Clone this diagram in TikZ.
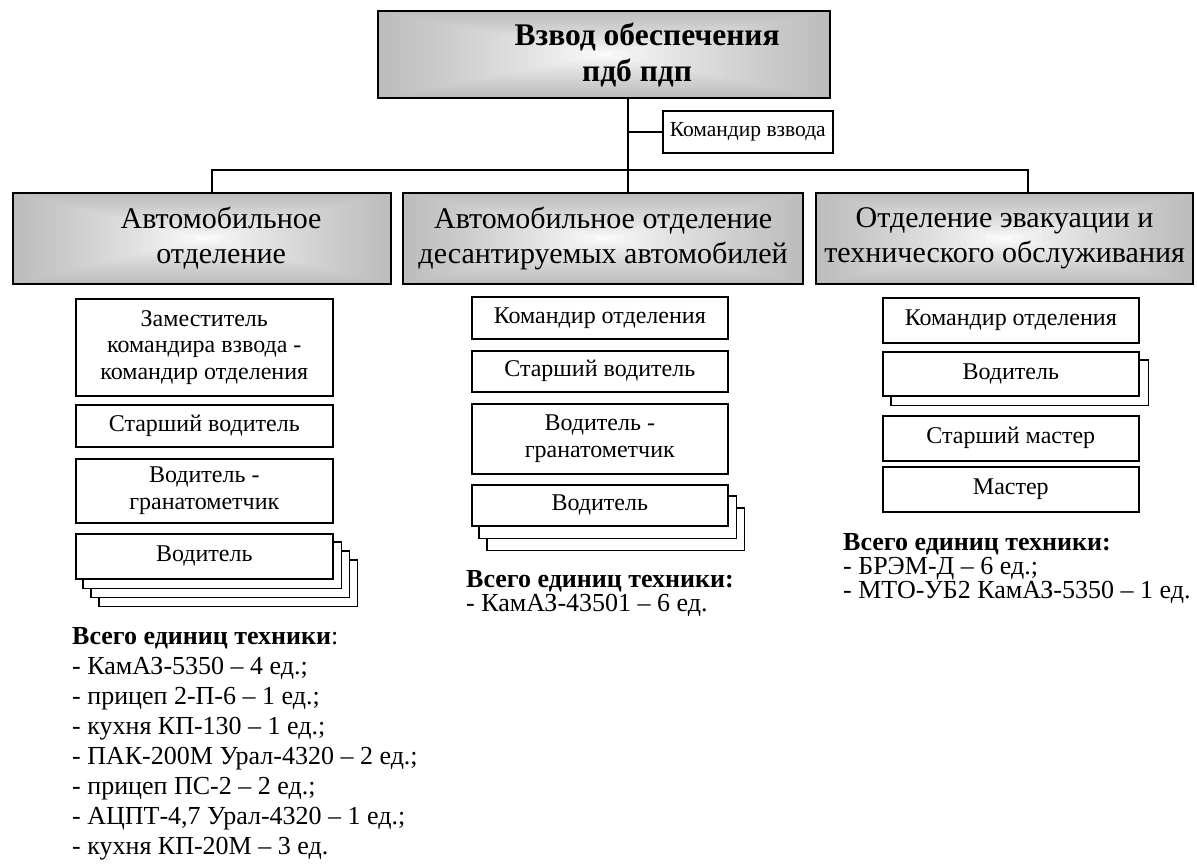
\documentclass[tikz,border=0pt]{standalone}
\usepackage{fontspec}
\setmainfont{Liberation Serif}
\usetikzlibrary{calc,backgrounds}
\tikzset{
  grad/.style={path picture={
    \foreach \i in {30,...,1}{
      \pgfmathsetmacro\f{\i/30}
      \pgfmathsetmacro\c{26*(\f^0.8)}
      \fill[black!\c] ($(path picture bounding box.center)!\f!(path picture bounding box.south west)$) rectangle ($(path picture bounding box.center)!\f!(path picture bounding box.north east)$);
    }}},
  conn/.style={line width=2pt},
  bigbox/.style={draw, line width=2.2pt, grad, anchor=north west, inner sep=0pt, align=center},
  smallbox/.style={draw, line width=1.6pt, fill=white, anchor=north west, inner sep=0pt, align=center, font=\fontsize{24}{26.5}\selectfont},
  backbox/.style={draw, line width=1.6pt, fill=white},
  listtext/.style={anchor=north west, inner sep=0pt, align=left},
}
\begin{document}
\begin{tikzpicture}[x=1pt,y=-1pt]
\useasboundingbox (0,0) rectangle (1197,863);

% top
\node[bigbox, minimum width=452pt, minimum height=87pt, font=\bfseries\fontsize{31.5}{36}\selectfont] (top) at (377,10) {\hspace*{86pt}Взвод обеспечения\\\hspace*{66pt}пдб пдп};
\node[smallbox, minimum width=170pt, minimum height=42pt, font=\fontsize{21.5}{25}\selectfont] (kv) at (662,110) {Командир взвода};

% level 2
\node[bigbox, minimum width=378pt, minimum height=91pt, font=\fontsize{30}{35}\selectfont] (L2l) at (12,192) {\hspace*{38pt}Автомобильное\\\hspace*{38pt}отделение};
\node[bigbox, minimum width=400pt, minimum height=91pt, font=\fontsize{30}{35}\selectfont] (L2m) at (402,192) {Автомобильное отделение\\десантируемых автомобилей};
\node[bigbox, minimum width=377pt, minimum height=91pt, font=\fontsize{30}{35}\selectfont] (L2r) at (815,192) {Отделение эвакуации и\\технического обслуживания};

% connectors
\coordinate (bl) at (212,170);
\coordinate (bm) at (628,170);
\coordinate (br) at (1028,170);
\draw[conn] (top.south -| bm) -- (bm |- L2m.north);
\draw[conn] (kv.west) -- (kv.west -| bm);
\draw[conn] (bl |- L2l.north) -- (bl) -- (br) -- (br |- L2r.north);

% left column
\node[smallbox, minimum width=257pt, minimum height=97pt] (zam) at (75,298) {Заместитель\\командира взвода -\\командир отделения};
\node[smallbox, minimum width=257pt, minimum height=42pt] (sv1) at (75,404) {Старший водитель};
\node[smallbox, minimum width=257pt, minimum height=64pt] (vg1) at (75,458) {Водитель -\\гранатометчик};
\node[smallbox, minimum width=257pt, minimum height=45pt] (vod1) at (75,533) {Водитель};

% middle column
\node[smallbox, minimum width=256pt, minimum height=42pt] (ko2) at (471,296) {Командир отделения};
\node[smallbox, minimum width=256pt, minimum height=41pt] (sv2) at (471,350) {Старший водитель};
\node[smallbox, minimum width=256pt, minimum height=70pt] (vg2) at (471,403) {Водитель -\\гранатометчик};
\node[smallbox, minimum width=256pt, minimum height=41pt] (vod2) at (471,484) {Водитель};

% right column
\node[smallbox, minimum width=256pt, minimum height=45pt] (ko3) at (882,297) {Командир отделения};
\node[smallbox, minimum width=256pt, minimum height=44pt] (vod3) at (882,351) {Водитель};
\node[smallbox, minimum width=256pt, minimum height=45pt] (sm3) at (882,415) {Старший мастер};
\node[smallbox, minimum width=256pt, minimum height=45pt] (m3) at (882,466) {Мастер};

% stacked copies
\begin{scope}[on background layer]
  \foreach \d/\e in {24/27,16/18,8/9}
    \draw[backbox] ([shift={(\d,\e)}]vod1.south west) rectangle ([shift={(\d,\e)}]vod1.north east);
  \foreach \d/\e in {16/24,8/12}
    \draw[backbox] ([shift={(\d,\e)}]vod2.south west) rectangle ([shift={(\d,\e)}]vod2.north east);
  \draw[backbox] ([shift={(9,9)}]vod3.south west) rectangle ([shift={(9,9)}]vod3.north east);
\end{scope}

% lists
\node[listtext, font=\fontsize{26}{30}\selectfont] (lstl) at (72,627) {\textbf{Всего единиц техники}:\\- КамАЗ-5350 – 4 ед.;\\- прицеп 2-П-6 – 1 ед.;\\- кухня КП-130 – 1 ед.;\\- ПАК-200М Урал-4320 – 2 ед.;\\- прицеп ПС-2 – 2 ед.;\\- АЦПТ-4,7 Урал-4320 – 1 ед.;\\- кухня КП-20М – 3 ед.};
\node[listtext, font=\fontsize{26}{24}\selectfont] (lstm) at (466,570) {\textbf{Всего единиц техники:}\\- КамАЗ-43501 – 6 ед.};
\node[listtext, font=\fontsize{26}{24}\selectfont] (lstr) at (843,533) {\textbf{Всего единиц техники:}\\- БРЭМ-Д – 6 ед.;\\- МТО-УБ2 КамАЗ-5350 – 1 ед.};
\end{tikzpicture}
\end{document}
